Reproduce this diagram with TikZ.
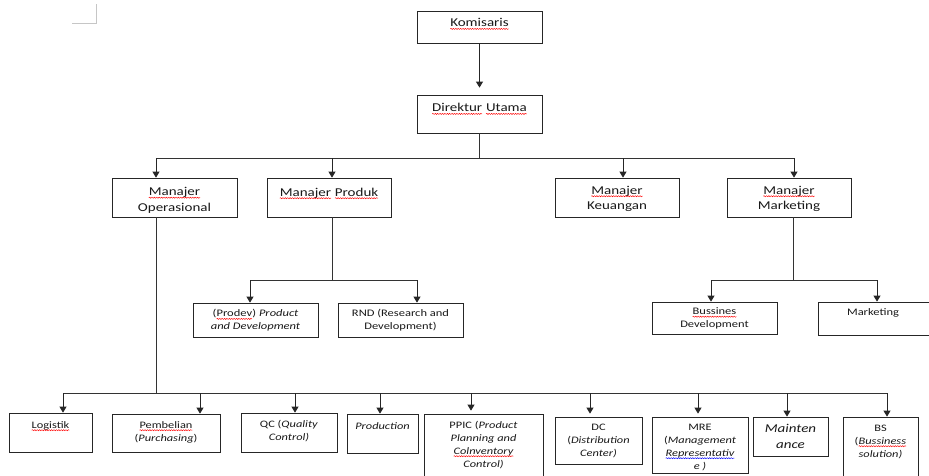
\documentclass[tikz,border=0pt]{standalone}
\usepackage{fontspec}
\setmainfont{Carlito}[FakeStretch=1.25]
\usetikzlibrary{arrows.meta,decorations.pathmorphing}
\newcommand\wv[2]{\tikz[baseline=(w.base)]{\node[inner sep=0pt,outer sep=0pt] (w) {#2};\draw[#1, line width=0.45pt, decorate, decoration={snake, amplitude=0.55pt, segment length=2.4pt}] ([yshift=-2.2pt]w.base west) -- ([yshift=-2.2pt]w.base east);}}
\newcommand\rw[1]{\wv{red}{#1}}
\newcommand\bw[1]{\wv{blue}{#1}}
\newcommand\mkbox[5]{\node[box, minimum width={(#4-#2)*1pt}, minimum height={(#5-#3)*1pt}] (#1) at ({(#2+#4)/2},{(#3+#5)/2}) {};}
\tikzset{
  box/.style={draw=black!85, line width=0.8pt, rectangle, inner sep=0pt},
  arr/.style={draw=black!85, line width=0.8pt, -{Triangle[width=7pt,length=6pt]}},
  ln/.style={draw=black!80, line width=0.9pt},
  txt/.style={align=center, anchor=base, inner sep=0pt, text=black!90},
  tA/.style={txt, font=\fontsize{12}{15.5}\selectfont},
  tB/.style={txt, font=\fontsize{10}{12.5}\selectfont},
  tC/.style={txt, font=\fontsize{9.9}{13}\selectfont},
  tD/.style={txt, font=\fontsize{12}{16}\selectfont},
}
\begin{document}
\begin{tikzpicture}[x=1pt, y=-1pt]
\clip (0,0) rectangle (929,475);
\fill[white] (0,0) rectangle (929,475);
% margin mark
\draw[gray!45, line width=0.9pt] (72,23) -- (96,23) -- (96,4);
% boxes
\mkbox{kom}{417}{11}{542}{43}
\mkbox{dir}{417}{95}{542}{133}
\mkbox{mop}{112}{178}{237}{217}
\mkbox{mpr}{267}{178}{391}{217}
\mkbox{mke}{555}{178}{679}{217}
\mkbox{mma}{727}{178}{851}{217}
\mkbox{prd}{193}{303}{318}{337}
\mkbox{rnd}{338}{303}{463}{337}
\mkbox{bsd}{652}{302}{777}{334}
\mkbox{mkt}{818}{302}{940}{335}
\mkbox{log}{9}{413}{92}{452}
\mkbox{pem}{112}{414}{220}{452}
\mkbox{qc}{241}{413}{337}{452}
\mkbox{pro}{347}{414}{418}{453}
\mkbox{ppi}{424}{414}{543}{485}
\mkbox{dc}{555}{417}{642}{464}
\mkbox{mre}{652}{417}{748}{473}
\mkbox{mai}{753}{417}{828}{456}
\mkbox{bs}{843}{417}{918}{485}
% texts (anchor = baseline of the last line)
\node[tA] (tkom) at (479.5,26.7) {\rw{Komisaris}};
\node[tA] (tdir) at (479.5,111.7) {\rw{Direktur} \rw{Utama}};
\node[tA] (tmop) at (174.5,211) {\rw{Manajer}\\Operasional};
\node[tA] (tmpr) at (329,196) {\rw{Manajer} \rw{Produk}};
\node[tA] (tmke) at (617,209.5) {\rw{Manajer}\\Keuangan};
\node[tA] (tmma) at (789,209.5) {\rw{Manajer}\\Marketing};
\node[tB] (tprd) at (255.5,329.2) {(\rw{Prodev}) \textit{Product}\\\textit{and Development}};
\node[tB] (trnd) at (400.5,329.2) {RND (Research and\\Development)};
\node[tB] (tbsd) at (714.5,327) {\rw{Bussines}\\Development};
\node[tB] (tmkt) at (873,315) {Marketing};
\node[tC] (tlog) at (50.5,428) {\rw{Logistik}};
\node[tC] (tpem) at (166,441) {\rw{Pembelian}\\(\textit{Purchasing})};
\node[tC] (tqc) at (289,440) {QC (\textit{Quality}\\\textit{Control)}};
\node[tC] (tpro) at (382.5,429) {\textit{Production}};
\node[tC] (tppi) at (483.5,467) {PPIC (\textit{Product}\\\textit{Planning and}\\\textit{\rw{Colnventory}}\\\textit{Control)}};
\node[tC] (tdc) at (598.5,456) {DC\\(\textit{Distribution}\\\textit{Center)}};
\node[tC] (tmre) at (700,469) {MRE\\(\textit{Management}\\\textit{\bw{Representativ}}\\\textit{e )}};
\node[tD] (tmai) at (790.5,448) {\textit{Mainten}\\\textit{ance}};
\node[tC] (tbs) at (880.5,457) {BS\\(\textit{\rw{Bussiness}}\\\textit{solution)}};
% level 1 connectors
\draw[arr] (kom.south) -- ([yshift=7pt]dir.north);
\coordinate (b1) at (479.5,158);
\coordinate (b1L) at (156,158);
\coordinate (b1P) at (332,158);
\coordinate (b1K) at (623,158);
\coordinate (b1R) at (794,158);
\draw[ln] (dir.south) -- (b1);
\draw[ln] (b1L) -- (b1R);
\draw[arr] (b1L) -- (b1L |- mop.north);
\draw[arr] (b1P) -- (b1P |- mpr.north);
\draw[arr] (b1K) -- (b1K |- mke.north);
\draw[arr] (b1R) -- (b1R |- mma.north);
% produk
\coordinate (p0) at (332,280);
\coordinate (pL) at (250,280);
\coordinate (pR) at (417,280);
\draw[ln] (p0 |- mpr.south) -- (p0);
\draw[ln] (pL) -- (pR);
\draw[arr] (pL) -- (pL |- prd.north);
\draw[arr] (pR) -- (pR |- rnd.north);
% marketing
\coordinate (m0) at (793,280);
\coordinate (mL) at (711,280);
\coordinate (mR) at (877,280);
\draw[ln] (m0 |- mma.south) -- (m0);
\draw[ln] (mL) -- (mR);
\draw[arr] (mL) -- (mL |- bsd.north);
\draw[arr] (mR) -- (mR |- mkt.north);
% operasional
\coordinate (o0) at (156,393);
\coordinate (oL) at (63,393);
\coordinate (oR) at (887,393);
\draw[ln] (o0 |- mop.south) -- (o0);
\draw[ln] (oL) -- (oR);
\coordinate (o2) at (200,393);
\coordinate (o3) at (295,393);
\coordinate (o4) at (380,393);
\coordinate (o5) at (471,393);
\coordinate (o6) at (590,393);
\coordinate (o7) at (698,393);
\coordinate (o8) at (787,393);
\draw[arr] (oL) -- (oL |- log.north);
\draw[arr] (o2) -- (o2 |- pem.north);
\draw[arr] (o3) -- (o3 |- qc.north);
\draw[arr] (o4) -- (o4 |- pro.north);
\draw[arr] (o5) -- ([yshift=3pt]o5 |- ppi.north);
\draw[arr] (o6) -- ([yshift=3pt]o6 |- dc.north);
\draw[arr] (o7) -- ([yshift=3pt]o7 |- mre.north);
\draw[arr] (o8) -- (o8 |- mai.north);
\draw[arr] (oR) -- (oR |- bs.north);
\end{tikzpicture}
\end{document}
